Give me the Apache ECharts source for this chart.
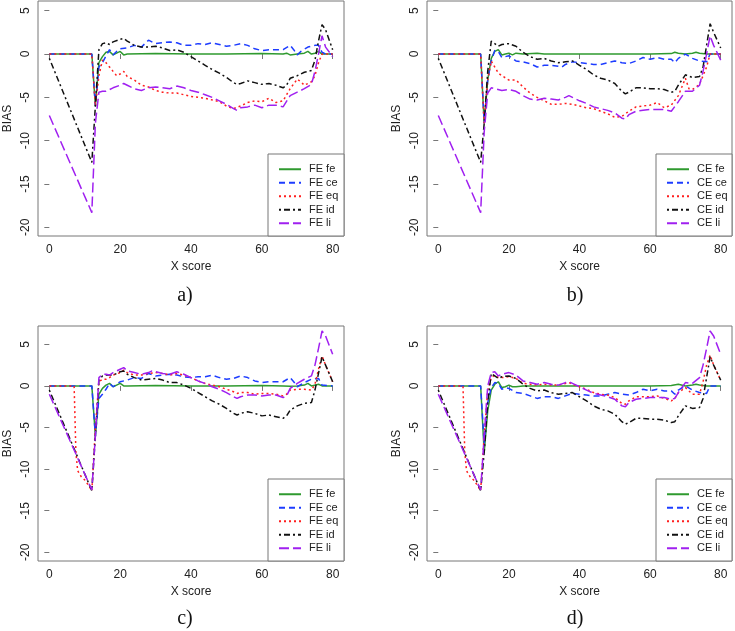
<!DOCTYPE html>
<html><head><meta charset="utf-8">
<script src="https://cdn.jsdelivr.net/npm/echarts@6/dist/echarts.min.js"></script>
<style>html,body{margin:0;padding:0;background:#fff}#c{width:735px;height:631px}</style>
</head><body><div id="c"></div>
<script>
// ---- data: [x score, BIAS] pairs ----
const xTicks = [0, 20, 40, 60, 80];
const yTicks = [-20, -15, -10, -5, 0, 5];
const panelLabels = ['a)', 'b)', 'c)', 'd)'];
const kinds = ['fe', 'ce', 'eq', 'id', 'li'];

// panel a (FE)
const aFe = [[0,0],[12,0],[13,-6],[14,-1],[15,-0.3],[16,0.2],[17,0.3],[18,-0.1],[19,0.1],[20,0.3],[21,-0.1],[22,0],[30,0.05],[40,0],[50,0],[60,0.05],[66,0],[67,0.1],[68,-0.1],[70,0],[72,0.1],[73,0.3],[74,0],[75,0.1],[76,0.3],[77,0],[80,0]];
const aCe = [[0,0],[12,0],[13,-6],[14,-1.5],[15,-1],[16,-0.2],[17,0.5],[18,-0.1],[19,0.3],[20,0.6],[22,0.7],[24,1.0],[26,0.8],[28,1.6],[30,1.2],[32,1.3],[34,1.4],[36,1.3],[38,1.0],[40,1.0],[42,1.2],[44,1.1],[46,1.3],[48,1.1],[50,0.9],[52,1.0],[54,1.2],[56,1.0],[58,0.6],[60,0.4],[62,0.5],[64,0.5],[66,0.5],[68,1.0],[69,0.5],[70,-0.1],[71,0.3],[73,0.8],[75,1.0],[76,1.0],[77,0.2],[78,0],[80,0]];
const aEq = [[0,0],[12,0],[13,-6],[14,-2.5],[15,-0.7],[16,-1.0],[17,-1.5],[18,-2],[19,-2.5],[20,-2.3],[21,-2],[22,-2.6],[24,-3],[26,-3.6],[28,-3.8],[30,-4.2],[32,-4.4],[34,-4.5],[36,-4.5],[38,-4.7],[40,-4.9],[42,-5.0],[44,-5.1],[46,-5.3],[48,-5.5],[50,-6.0],[52,-6.3],[54,-6.0],[56,-5.6],[58,-5.4],[60,-5.5],[62,-5.1],[64,-5.6],[66,-5.4],[68,-4.0],[70,-2.9],[71,-3.2],[72,-3.6],[74,-3.2],[75,-2.5],[76,-1.0],[77,0],[80,0]];
const aId = [[0,-0.5],[12,-12.5],[13,-6],[14,0.5],[15,1.2],[16,1.3],[17,1.1],[18,1.4],[20,1.7],[21,1.8],[22,1.5],[24,1.0],[26,0.8],[28,0.8],[30,0.9],[32,0.7],[34,0.4],[36,0.5],[38,0.2],[40,-0.3],[42,-0.8],[44,-1.3],[46,-1.8],[48,-2.2],[50,-2.7],[52,-3.3],[53,-3.5],[54,-3.4],[56,-3.1],[58,-3.3],[60,-3.5],[62,-3.4],[64,-3.6],[66,-3.9],[67,-3.6],[68,-2.8],[70,-2.5],[72,-2.1],[74,-1.9],[75,-0.7],[76,1.5],[77,3.4],[78,2.8],[80,0.5]];
const aLi = [[0,-7.1],[12,-18.3],[13,-8],[14,-4.4],[15,-4.3],[16,-4.3],[18,-3.9],[20,-3.6],[21,-3.4],[22,-3.6],[24,-4.0],[26,-4.2],[28,-3.9],[30,-3.8],[32,-3.9],[34,-4.0],[36,-3.7],[38,-3.9],[40,-4.2],[42,-4.4],[44,-4.7],[46,-5.0],[48,-5.4],[50,-5.8],[52,-6.3],[53,-6.5],[54,-6.2],[56,-6.1],[58,-5.9],[60,-6.2],[62,-5.9],[64,-5.9],[66,-6.1],[68,-4.8],[70,-4.4],[72,-4.0],[74,-3.5],[75,-2.0],[76,0],[77,2.1],[78,0.8],[80,-0.3]];

// panel b (CE)
const bFe = [[0,0],[12,0],[13,-8],[14,-3],[15,-0.5],[16,0.3],[17,0.5],[18,-0.1],[19,0],[20,0.1],[21,-0.1],[22,0.1],[24,0],[28,0.1],[30,0],[40,0],[50,0],[60,0],[66,0.05],[67,0.2],[68,0.1],[70,0],[72,0.1],[73,0.2],[74,0.1],[76,0],[80,0]];
const bCe = [[0,0],[12,0],[13,-8],[14,-3],[15,-0.8],[16,0.4],[17,0.3],[18,-0.4],[19,-0.3],[20,-0.2],[22,-0.8],[24,-0.9],[26,-1.1],[28,-1.5],[30,-1.3],[32,-1.3],[34,-1.4],[35,-1.5],[36,-1.2],[38,-0.9],[40,-1.0],[42,-1.1],[44,-1.2],[46,-1.2],[48,-1.0],[50,-0.8],[52,-1.0],[54,-1.1],[56,-0.8],[58,-0.4],[60,-0.6],[62,-0.4],[64,-0.6],[66,-0.6],[67,-1.0],[68,-0.5],[70,0],[72,-0.5],[74,-0.8],[76,-0.9],[77,0],[80,0]];
const bEq = [[0,0],[12,0],[13,-8],[14,-3],[15,-0.8],[16,-1.5],[17,-2.2],[18,-2.5],[20,-3],[22,-3],[24,-3.8],[26,-4.5],[28,-5],[30,-5.4],[32,-5.8],[34,-5.8],[36,-5.7],[38,-5.8],[40,-6.0],[42,-6.2],[44,-6.3],[46,-6.6],[48,-6.9],[50,-7.3],[52,-7.2],[54,-6.6],[56,-6.1],[58,-6.0],[60,-5.9],[62,-5.6],[64,-6.2],[66,-5.9],[68,-4.8],[70,-2.8],[71,-4.0],[72,-4.1],[74,-3.5],[76,-1.5],[77,0],[80,0]];
const bId = [[0,-0.5],[12,-12.5],[13,-8],[14,-2],[15,1.5],[16,1.2],[17,0.9],[18,1.1],[20,1.2],[22,0.9],[24,0.2],[26,-0.3],[28,-0.6],[30,-0.5],[32,-0.8],[34,-1.0],[36,-0.9],[38,-0.8],[40,-1.3],[42,-1.8],[44,-2.4],[46,-2.8],[48,-3.0],[50,-3.4],[52,-4.3],[53,-4.6],[54,-4.4],[56,-3.9],[58,-3.9],[60,-4.0],[62,-4.0],[64,-4.1],[66,-4.4],[67,-4.3],[68,-3.6],[70,-2.4],[72,-2.7],[74,-2.6],[75,-1.5],[76,1.0],[77,3.5],[78,2.5],[80,0.7]];
const bLi = [[0,-7.1],[12,-18.3],[13,-9],[14,-4.5],[15,-3.9],[16,-4.0],[18,-4.2],[20,-4.1],[22,-4.3],[24,-4.8],[26,-5.2],[28,-5.3],[30,-5.1],[32,-5.2],[34,-5.3],[36,-5.0],[37,-4.8],[38,-5.0],[40,-5.4],[42,-5.7],[44,-6.1],[46,-6.3],[48,-6.5],[50,-6.8],[52,-7.4],[53,-7.5],[54,-7.0],[56,-6.6],[58,-6.5],[60,-6.4],[62,-6.4],[64,-6.4],[66,-6.6],[68,-5.5],[70,-4.3],[72,-4.3],[74,-3.6],[75,-2.0],[76,0],[77,2.1],[78,1.0],[80,-0.7]];

// panel c (FE)
const cFe = [[0,0],[12,0],[13,-6],[14,-1],[15,-0.3],[16,0.1],[17,0.3],[18,-0.1],[19,0.1],[20,0.3],[21,0],[22,0],[30,0.05],[40,0],[50,0],[60,0.05],[66,0],[68,-0.05],[70,0],[72,0.1],[73,0.3],[74,0],[76,0.2],[77,0],[80,0]];
const cCe = [[0,0],[12,0],[13,-6],[14,-1.5],[15,-1.0],[16,-0.4],[17,0.3],[18,-0.1],[20,0.5],[22,0.7],[24,1.0],[26,0.9],[28,1.5],[30,1.2],[32,1.3],[34,1.4],[36,1.3],[38,1.1],[40,1.0],[42,1.1],[44,1.1],[46,1.3],[48,1.0],[50,0.8],[52,0.9],[54,1.2],[56,1.0],[58,0.6],[60,0.4],[62,0.5],[64,0.5],[66,0.5],[68,1.0],[69,0.5],[70,-0.1],[72,0.4],[74,0.8],[76,0.9],[77,0.1],[80,0]];
const cEq = [[0,0],[7,0],[7.5,-8],[8,-10.2],[9,-10.9],[10,-11.3],[11,-11.9],[12,-12.6],[13,-5],[14,0.5],[15,0.8],[16,0.8],[17,1.0],[18,1.3],[20,1.6],[21,1.9],[22,1.6],[24,1.3],[26,1.3],[28,1.5],[30,1.6],[32,1.5],[34,1.3],[36,1.5],[38,1.3],[40,1.0],[42,0.6],[44,0.3],[46,0.1],[48,-0.1],[50,-0.4],[52,-0.7],[53,-0.9],[54,-0.8],[56,-0.8],[58,-1.0],[60,-0.9],[62,-0.9],[64,-1.0],[66,-1.2],[67,-1.0],[68,-0.5],[70,-0.4],[72,-0.4],[74,-0.5],[75,0.2],[76,2.0],[77,3.6],[78,2.5],[80,0.5]];
const cId = [[0,-0.5],[12,-12.6],[13,-6],[14,0.7],[15,1.2],[16,1.3],[18,1.3],[20,1.7],[21,1.8],[22,1.4],[24,1.0],[26,0.7],[28,0.8],[30,0.9],[32,0.7],[34,0.4],[36,0.4],[38,0.1],[40,-0.3],[42,-0.8],[44,-1.3],[46,-1.8],[48,-2.2],[50,-2.7],[52,-3.3],[53,-3.5],[54,-3.3],[56,-3.1],[58,-3.3],[60,-3.6],[62,-3.5],[64,-3.7],[66,-3.9],[67,-3.6],[68,-2.9],[70,-2.4],[72,-2.1],[74,-2.0],[75,-0.5],[76,1.5],[77,3.5],[78,2.5],[80,0.5]];
const cLi = [[0,-1.0],[12,-12.5],[13,-6],[14,1.0],[15,1.4],[16,1.4],[17,1.3],[18,1.6],[20,2.0],[21,2.2],[22,1.8],[24,1.6],[26,1.4],[28,1.6],[29,1.8],[30,1.7],[32,1.5],[34,1.4],[36,1.7],[38,1.4],[40,1.0],[42,0.6],[44,0.3],[46,-0.1],[48,-0.4],[50,-0.8],[52,-1.3],[53,-1.5],[54,-1.3],[56,-1.1],[58,-1.1],[60,-1.2],[62,-1.1],[64,-1.1],[66,-1.4],[67,-1.2],[68,-0.3],[70,0.3],[72,0.8],[74,1.2],[75,2.5],[76,4.5],[77,6.6],[78,6.0],[80,3.8]];

// panel d (CE)
const dFe = [[0,0],[12,0],[13,-8],[14,-3],[15,-0.5],[16,0.2],[17,0.5],[18,-0.2],[19,-0.1],[20,0.1],[21,-0.1],[22,-0.1],[24,0],[30,0],[40,0],[50,0],[60,0],[66,0.05],[68,0.2],[70,0],[72,0.1],[73,0.2],[74,0.1],[76,0],[80,0]];
const dCe = [[0,0],[12,0],[13,-7],[14,-2],[15,-0.2],[16,0.4],[17,0.3],[18,-0.4],[19,-0.2],[20,-0.3],[22,-0.8],[24,-0.9],[26,-1.2],[28,-1.5],[30,-1.3],[32,-1.3],[34,-1.5],[36,-1.2],[38,-0.9],[40,-1.0],[42,-1.1],[44,-1.2],[46,-1.2],[48,-1.0],[50,-0.8],[52,-1.0],[54,-1.1],[56,-0.8],[58,-0.4],[60,-0.6],[62,-0.4],[64,-0.6],[66,-0.6],[67,-1.0],[68,-0.5],[70,0],[72,-0.5],[74,-0.8],[76,-0.9],[77,0],[80,0]];
const dEq = [[0,0],[7,0],[7.5,-8],[8,-10.2],[9,-10.9],[10,-11.3],[11,-11.9],[12,-12.6],[13,-6],[14,-0.5],[15,1.0],[16,1.3],[17,1.0],[18,1.0],[20,1.1],[22,0.9],[24,0.3],[26,0.2],[28,0.1],[30,0.2],[32,0.1],[34,0.1],[36,0.3],[37,0.4],[38,0.2],[40,-0.1],[42,-0.4],[44,-0.8],[46,-1.0],[48,-1.1],[50,-1.4],[52,-2.1],[53,-2.2],[54,-1.8],[56,-1.3],[58,-1.3],[60,-1.3],[62,-1.2],[64,-1.5],[66,-1.8],[67,-1.5],[68,-0.8],[70,-0.2],[72,-1.0],[74,-1.0],[75,0.5],[76,2.5],[77,3.7],[78,2.5],[80,0.7]];
const dId = [[0,-0.5],[12,-12.6],[13,-8],[14,-2],[15,1.5],[16,1.2],[17,0.9],[18,1.1],[20,1.2],[22,0.9],[24,0.2],[26,-0.3],[28,-0.6],[30,-0.5],[32,-0.8],[34,-1.0],[36,-0.9],[38,-0.8],[40,-1.3],[42,-1.8],[44,-2.4],[46,-2.8],[48,-3.0],[50,-3.4],[52,-4.3],[53,-4.6],[54,-4.4],[56,-3.9],[58,-3.9],[60,-4.0],[62,-4.0],[64,-4.1],[66,-4.4],[67,-4.3],[68,-3.6],[70,-2.4],[72,-2.7],[74,-2.6],[75,-1.5],[76,1.0],[77,3.5],[78,2.5],[80,0.7]];
const dLi = [[0,-1.0],[12,-12.5],[13,-6],[14,0],[15,1.6],[16,1.7],[17,1.2],[18,1.4],[20,1.6],[22,1.3],[24,0.6],[26,0.4],[28,0.2],[30,0.4],[32,0.2],[34,0.1],[36,0.4],[37,0.5],[38,0.3],[40,-0.1],[42,-0.5],[44,-0.9],[46,-1.1],[48,-1.3],[50,-1.6],[52,-2.4],[53,-2.5],[54,-2.0],[56,-1.6],[58,-1.5],[60,-1.4],[62,-1.4],[64,-1.4],[66,-1.6],[67,-1.5],[68,-0.8],[70,0.4],[72,0.3],[74,1.0],[75,2.5],[76,4.5],[77,6.6],[78,6.0],[80,3.8]];

const panelData = [
  {prefix: 'FE', data: [aFe, aCe, aEq, aId, aLi]},
  {prefix: 'CE', data: [bFe, bCe, bEq, bId, bLi]},
  {prefix: 'FE', data: [cFe, cCe, cEq, cId, cLi]},
  {prefix: 'CE', data: [dFe, dCe, dEq, dId, dLi]}
];

// ---- styles / layout ----
const styles = {
  fe: {color: '#2f9a2f', type: 'solid'},
  ce: {color: '#1d3cff', type: [6, 4]},
  eq: {color: '#ff1f1f', type: [2, 3]},
  id: {color: '#111111', type: [2, 3, 6, 3]},
  li: {color: '#a020f0', type: [10, 4]}
};
const layout = [
  {left: 38, top: 1, width: 306, height: 235, ymin: -21, ymax: 6.12, lab: [185, 296]},
  {left: 427, top: 1, width: 305, height: 235, ymin: -21, ymax: 6.12, lab: [575, 296]},
  {left: 38, top: 326, width: 306, height: 235, ymin: -21.04, ymax: 7.2, lab: [185, 619]},
  {left: 427, top: 326, width: 305, height: 235, ymin: -21.04, ymax: 7.2, lab: [575, 619]}
];
const axisColor = '#777';
const textColor = '#222';
const font = 'Liberation Sans, Arial, sans-serif';

const grid = [], xAxis = [], yAxis = [], series = [], legend = [], graphic = [];
layout.forEach((L, i) => {
  grid.push({left: L.left, top: L.top, width: L.width, height: L.height, show: true,
    borderColor: axisColor, borderWidth: 1, backgroundColor: 'transparent'});
  xAxis.push({type: 'value', gridIndex: i, min: -3.2, max: 83.2,
    name: 'X score', nameLocation: 'middle', nameGap: 25,
    nameTextStyle: {fontFamily: font, fontSize: 12, color: textColor},
    axisLine: {show: false}, splitLine: {show: false},
    axisTick: {show: true, length: 5, lineStyle: {color: axisColor}, customValues: xTicks},
    axisLabel: {margin: 8, fontFamily: font, fontSize: 12, color: textColor, customValues: xTicks}});
  yAxis.push({type: 'value', gridIndex: i, min: L.ymin, max: L.ymax,
    name: 'BIAS', nameLocation: 'middle', nameGap: 24, nameRotate: 90,
    nameTextStyle: {fontFamily: font, fontSize: 12, color: textColor},
    axisLine: {show: false}, splitLine: {show: false},
    axisTick: {show: true, length: 5, lineStyle: {color: axisColor}, customValues: yTicks},
    axisLabel: {margin: 6, rotate: 90, fontFamily: font, fontSize: 12, color: textColor, customValues: yTicks}});
  const P = panelData[i];
  const names = [];
  kinds.forEach((k, j) => {
    const nm = P.prefix + ' ' + k;
    names.push(nm);
    series.push({type: 'line', name: nm, xAxisIndex: i, yAxisIndex: i, data: P.data[j],
      showSymbol: false, symbol: 'none', smooth: false, silent: true, animation: false,
      itemStyle: {color: styles[k].color},
      lineStyle: {color: styles[k].color, width: 1.5, type: styles[k].type}});
  });
  // legend box, anchored to bottom-right corner of plot
  const bw = 76, bh = 82;
  const bx = L.left + L.width - bw, by = L.top + L.height - bh;
  graphic.push({type: 'rect', shape: {x: bx, y: by, width: bw, height: bh},
    style: {fill: '#fff', stroke: axisColor, lineWidth: 1}, z: 50});
  legend.push({orient: 'vertical', left: bx + 10, top: by + 8.5, padding: 0, itemGap: 0,
    itemWidth: 22, itemHeight: 13.5, data: names, selectedMode: false, z: 60,
    itemStyle: {opacity: 0},
    textStyle: {fontFamily: font, fontSize: 11, color: textColor, lineHeight: 13.5, padding: [0, 0, 0, 3]}});
  graphic.push({type: 'text', x: L.lab[0], y: L.lab[1], z: 60,
    style: {text: panelLabels[i], font: '20px "Liberation Serif", "Times New Roman", serif',
      fill: '#111', textAlign: 'center', textVerticalAlign: 'middle'}});
});

const chart = echarts.init(document.getElementById('c'), null, {renderer: 'canvas'});
chart.setOption({animation: false, grid, xAxis, yAxis, series, legend, graphic});
</script></body></html>
